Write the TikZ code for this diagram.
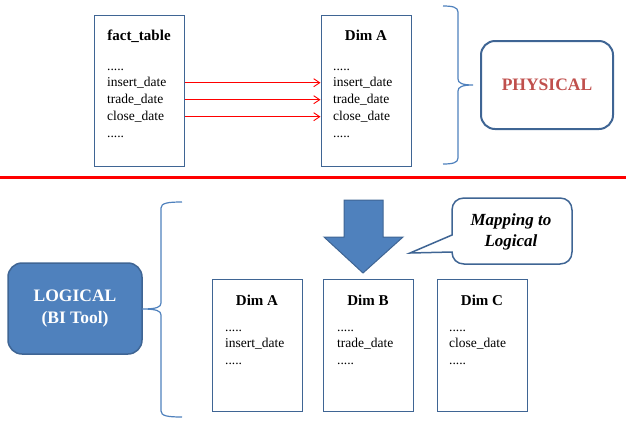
\documentclass[tikz,border=0pt]{standalone}
\usepackage{fontspec}
\setmainfont{Liberation Serif}
\usetikzlibrary{shapes,arrows,arrows.meta,calc,positioning}

\definecolor{boxline}{HTML}{3F6594}
\definecolor{bracecol}{HTML}{4F81BD}
\definecolor{physred}{HTML}{C0504D}

\begin{document}
\begin{tikzpicture}[x=1pt,y=-1pt,
	tblbox/.style={draw=boxline,line width=1pt,minimum width=90,inner sep=0},
	toptbl/.style={tblbox,minimum height=151},
	lowtbl/.style={tblbox,minimum height=132},
	title/.style={anchor=base,inner sep=0,font=\fontsize{15}{18}\selectfont\bfseries},
	row/.style={anchor=base west,inner sep=0,font=\fontsize{13.5}{16}\selectfont},
	maparrow/.style={red,line width=0.9pt,-{Straight Barb[length=6pt,width=8pt]}},
	brace/.style={draw=bracecol,line width=1.2pt},
	physbox/.style={draw=boxline,line width=2pt,rounded corners=14pt,minimum width=132,minimum height=88,
		text=physred,font=\fontsize{17.5}{21}\selectfont\bfseries},
	logbox/.style={draw=boxline,fill=bracecol,line width=1.5pt,rounded corners=14pt,minimum width=134,minimum height=91,
		text=white,align=center,font=\fontsize{17.5}{22}\selectfont\bfseries},
	note/.style={align=center,inner sep=0,font=\fontsize{17}{21}\selectfont\bfseries\itshape}]
	\useasboundingbox (0,0) rectangle (626,424);

	\node[toptbl]		(fact)	at (139,90.5)	{};
	\node[toptbl]		(dima)	at (366,90.5)	{};
	\node[title]		(factname)	at (139,40)	{fact\_table};
	\node[title]		(dimaname)	at (366,40)	{Dim A};

	\node[row]	(ft1)	at (107,70.5)	{.....};
	\node[row]	(ft2)	at (107,86.5)	{insert\_date};
	\node[row]	(ft3)	at (107,103.5)	{trade\_date};
	\node[row]	(ft4)	at (107,120.5)	{close\_date};
	\node[row]	(ft5)	at (107,137)	{.....};

	\node[row]	(da1)	at (333,70.5)	{.....};
	\node[row]	(da2)	at (333,86.5)	{insert\_date};
	\node[row]	(da3)	at (333,103.5)	{trade\_date};
	\node[row]	(da4)	at (333,120.5)	{close\_date};
	\node[row]	(da5)	at (333,137)	{.....};

	\draw[maparrow]	(ft2 -| fact.east)	--	(da2 -| dima.west);
	\draw[maparrow]	(ft3 -| fact.east)	--	(da3 -| dima.west);
	\draw[maparrow]	(ft4 -| fact.east)	--	(da4 -| dima.west);

	\node[physbox]	(phys)	at (547,85)	{PHYSICAL};
	\draw[brace] (443,6) .. controls (452,6) and (458,7) .. (458,12) -- (458,79)
		.. controls (458,83) and (462,85) .. (473,85) .. controls (462,85) and (458,87) .. (458,91)
		-- (458,158) .. controls (458,163) and (452,164) .. (443,164);

	\draw[red,line width=3pt] (0,177.5) -- (626,177.5);

	\node[logbox]	(logic)	at (75,308.5)	{LOGICAL\\(BI Tool)};
	\draw[brace] (182,202) .. controls (168,202) and (161,203) .. (161,208) -- (161,303)
		.. controls (161,307) and (157,309) .. (142,309) .. controls (157,309) and (161,311) .. (161,315)
		-- (161,411) .. controls (161,416) and (168,417) .. (182,417);

	\draw[fill=bracecol,draw=boxline,line width=1pt] (344,200) -- (383,200) -- (383,237) -- (403,237)
		-- (363,273) -- (324,237) -- (344,237) -- cycle;

	\node[note]	(mapnote)	at (511,232)	{Mapping to\\Logical};
	\draw[draw=boxline,line width=1.5pt] (452,235) -- (452,210) .. controls (452,203) and (457,198) .. (464,198)
		-- (560,198) .. controls (567,198) and (572,203) .. (572,210) -- (572,252)
		.. controls (572,259) and (567,264) .. (560,264) -- (464,264)
		.. controls (457,264) and (452,259) .. (452,252) -- (410,253) -- cycle;

	\node[lowtbl]	(lda)	at (257,345)	{};
	\node[lowtbl]	(ldb)	at (368,345)	{};
	\node[lowtbl]	(ldc)	at (482,345)	{};
	\node[title]	(ldaname)	at (257,305)	{Dim A};
	\node[title]	(ldbname)	at (368,305)	{Dim B};
	\node[title]	(ldcname)	at (482,305)	{Dim C};

	\node[row]	(la1)	at (225,331.5)	{.....};
	\node[row]	(la2)	at (225,347.5)	{insert\_date};
	\node[row]	(la3)	at (225,364)	{.....};
	\node[row]	(lb1)	at (337,331.5)	{.....};
	\node[row]	(lb2)	at (337,347.5)	{trade\_date};
	\node[row]	(lb3)	at (337,364)	{.....};
	\node[row]	(lc1)	at (449,331.5)	{.....};
	\node[row]	(lc2)	at (449,347.5)	{close\_date};
	\node[row]	(lc3)	at (449,364)	{.....};
\end{tikzpicture}
\end{document}
